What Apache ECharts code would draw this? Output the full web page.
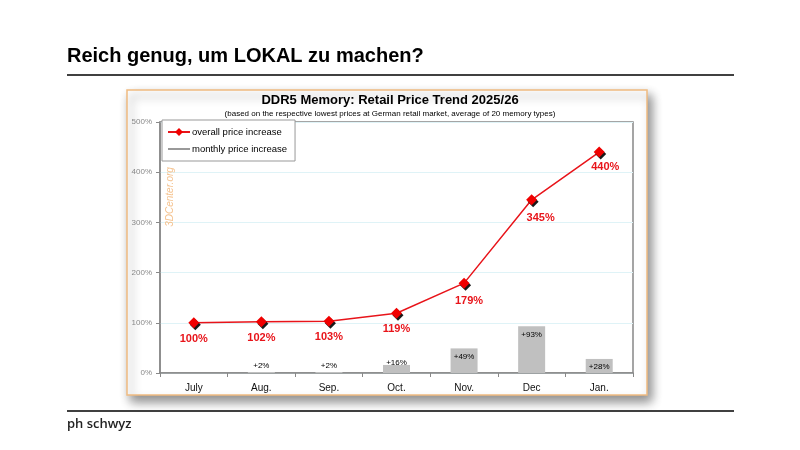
<!DOCTYPE html>
<html><head><meta charset="utf-8">
<script src="https://cdn.jsdelivr.net/npm/echarts@6/dist/echarts.min.js"></script>
<style>html,body{margin:0;padding:0;background:#fff}#c{width:800px;height:450px}</style>
</head><body><div id="c"></div>
<script>
const categories = ['July', 'Aug.', 'Sep.', 'Oct.', 'Nov.', 'Dec', 'Jan.'];
const overallIncrease = [100, 102, 103, 119, 179, 345, 440];
const monthlyIncrease = [null, 2, 2, 16, 49, 93, 28];
const yTicks = [0, 100, 200, 300, 400, 500];

const chart = echarts.init(document.getElementById('c'), null, {renderer: 'canvas'});
const F = '"Liberation Sans", Arial, sans-serif';

const barData = monthlyIncrease.map((v) => {
  if (v == null) return {value: v};
  let label;
  if (v < 10) label = {position: 'top', distance: 2};
  else if (v < 20) label = {position: 'top', offset: [0, 7]};
  else label = {position: 'insideTop', distance: 4};
  return {value: v, label};
});

const lineData = overallIncrease.map((v, i) => {
  const item = {value: v};
  if (i === 4) item.label = {offset: [5, 2]};
  if (i === 5) item.label = {offset: [9, 2]};
  if (i === 6) item.label = {offset: [6, -1]};
  return item;
});

chart.setOption({
  animation: false,
  backgroundColor: '#fff',
  graphic: [
    {type: 'rect', shape: {x: 127, y: 90, width: 520, height: 305}, z: -10,
     style: {fill: '#fff', stroke: '#f0bb80', lineWidth: 1.5, shadowBlur: 10, shadowOffsetX: 4, shadowOffsetY: 6, shadowColor: 'rgba(0,0,0,0.45)'}},
    {type: 'line', shape: {x1: 67, y1: 75, x2: 734, y2: 75}, style: {stroke: '#000', lineWidth: 1.5}},
    {type: 'line', shape: {x1: 67, y1: 411, x2: 734, y2: 411}, style: {stroke: '#000', lineWidth: 1.5}},
    {type: 'text', x: 67, y: 56, style: {text: 'Reich genug, um LOKAL zu machen?', font: 'bold 20px ' + F, fill: '#000', textVerticalAlign: 'middle'}},
    {type: 'text', x: 67, y: 424, style: {text: 'ph schwyz', font: '600 13px "Open Sans", sans-serif', fill: '#222', textVerticalAlign: 'middle'}},
    {type: 'text', x: 390, y: 100, style: {text: 'DDR5 Memory: Retail Price Trend 2025/26', font: 'bold 13px ' + F, fill: '#000', textAlign: 'center', textVerticalAlign: 'middle'}},
    {type: 'text', x: 390, y: 114, style: {text: '(based on the respective lowest prices at German retail market, average of 20 memory types)', font: '8px ' + F, fill: '#000', textAlign: 'center', textVerticalAlign: 'middle'}},
    {type: 'text', x: 170, y: 197, rotation: Math.PI / 2, style: {text: '3DCenter.org', font: 'italic 10px ' + F, fill: '#f5c28e', textAlign: 'center', textVerticalAlign: 'middle'}, z: 5}
  ],
  grid: {left: 160, right: 167, top: 122, bottom: 77, show: true, borderColor: '#888', borderWidth: 1.5, backgroundColor: 'transparent'},
  legend: {
    orient: 'vertical', left: 162, top: 120, padding: [7, 8, 7, 5], itemGap: 7,
    borderColor: '#999', borderWidth: 1, backgroundColor: '#fff',
    itemWidth: 22, itemHeight: 10,
    textStyle: {fontFamily: F, fontSize: 9.5, color: '#000', padding: [0, 0, 0, -3]},
    data: [
      {name: 'overall price increase'},
      {name: 'monthly price increase', icon: 'path://M0,4.4 L22,4.4 L22,5.6 L0,5.6 Z', itemStyle: {color: '#555'}}
    ]
  },
  xAxis: {
    type: 'category', data: categories, boundaryGap: true,
    axisLine: {lineStyle: {color: '#888', width: 1.5}},
    axisTick: {show: true, length: 4, lineStyle: {color: '#888'}},
    axisLabel: {fontFamily: F, fontSize: 10, color: '#111', margin: 10}
  },
  yAxis: {
    type: 'value', min: yTicks[0], max: yTicks[yTicks.length - 1], interval: 100,
    axisLine: {show: true, lineStyle: {color: '#888', width: 1.5}},
    axisTick: {show: true, length: 4, lineStyle: {color: '#888'}},
    axisLabel: {fontFamily: F, fontSize: 8, color: '#888', margin: 8, formatter: v => v + '%'},
    splitLine: {lineStyle: {color: '#dff3f7', width: 1}}
  },
  series: [
    {
      name: 'monthly price increase', type: 'bar', data: barData, barWidth: 27,
      itemStyle: {color: '#c0c0c0'},
      label: {show: true, formatter: p => '+' + p.value + '%', fontFamily: F, fontSize: 8, color: '#000'},
      z: 2
    },
    {
      name: 'overall price increase', type: 'line', data: lineData,
      symbol: 'diamond', symbolSize: 11,
      lineStyle: {color: '#e8141a', width: 1.5},
      itemStyle: {color: '#f00000', shadowColor: 'rgba(0,0,0,0.9)', shadowOffsetX: 1.5, shadowOffsetY: 2, shadowBlur: 0},
      label: {show: true, position: 'bottom', distance: 5, formatter: p => p.value + '%', fontFamily: F, fontSize: 11, fontWeight: 'bold', color: '#e8141a'},
      z: 3
    }
  ]
});
</script></body></html>
